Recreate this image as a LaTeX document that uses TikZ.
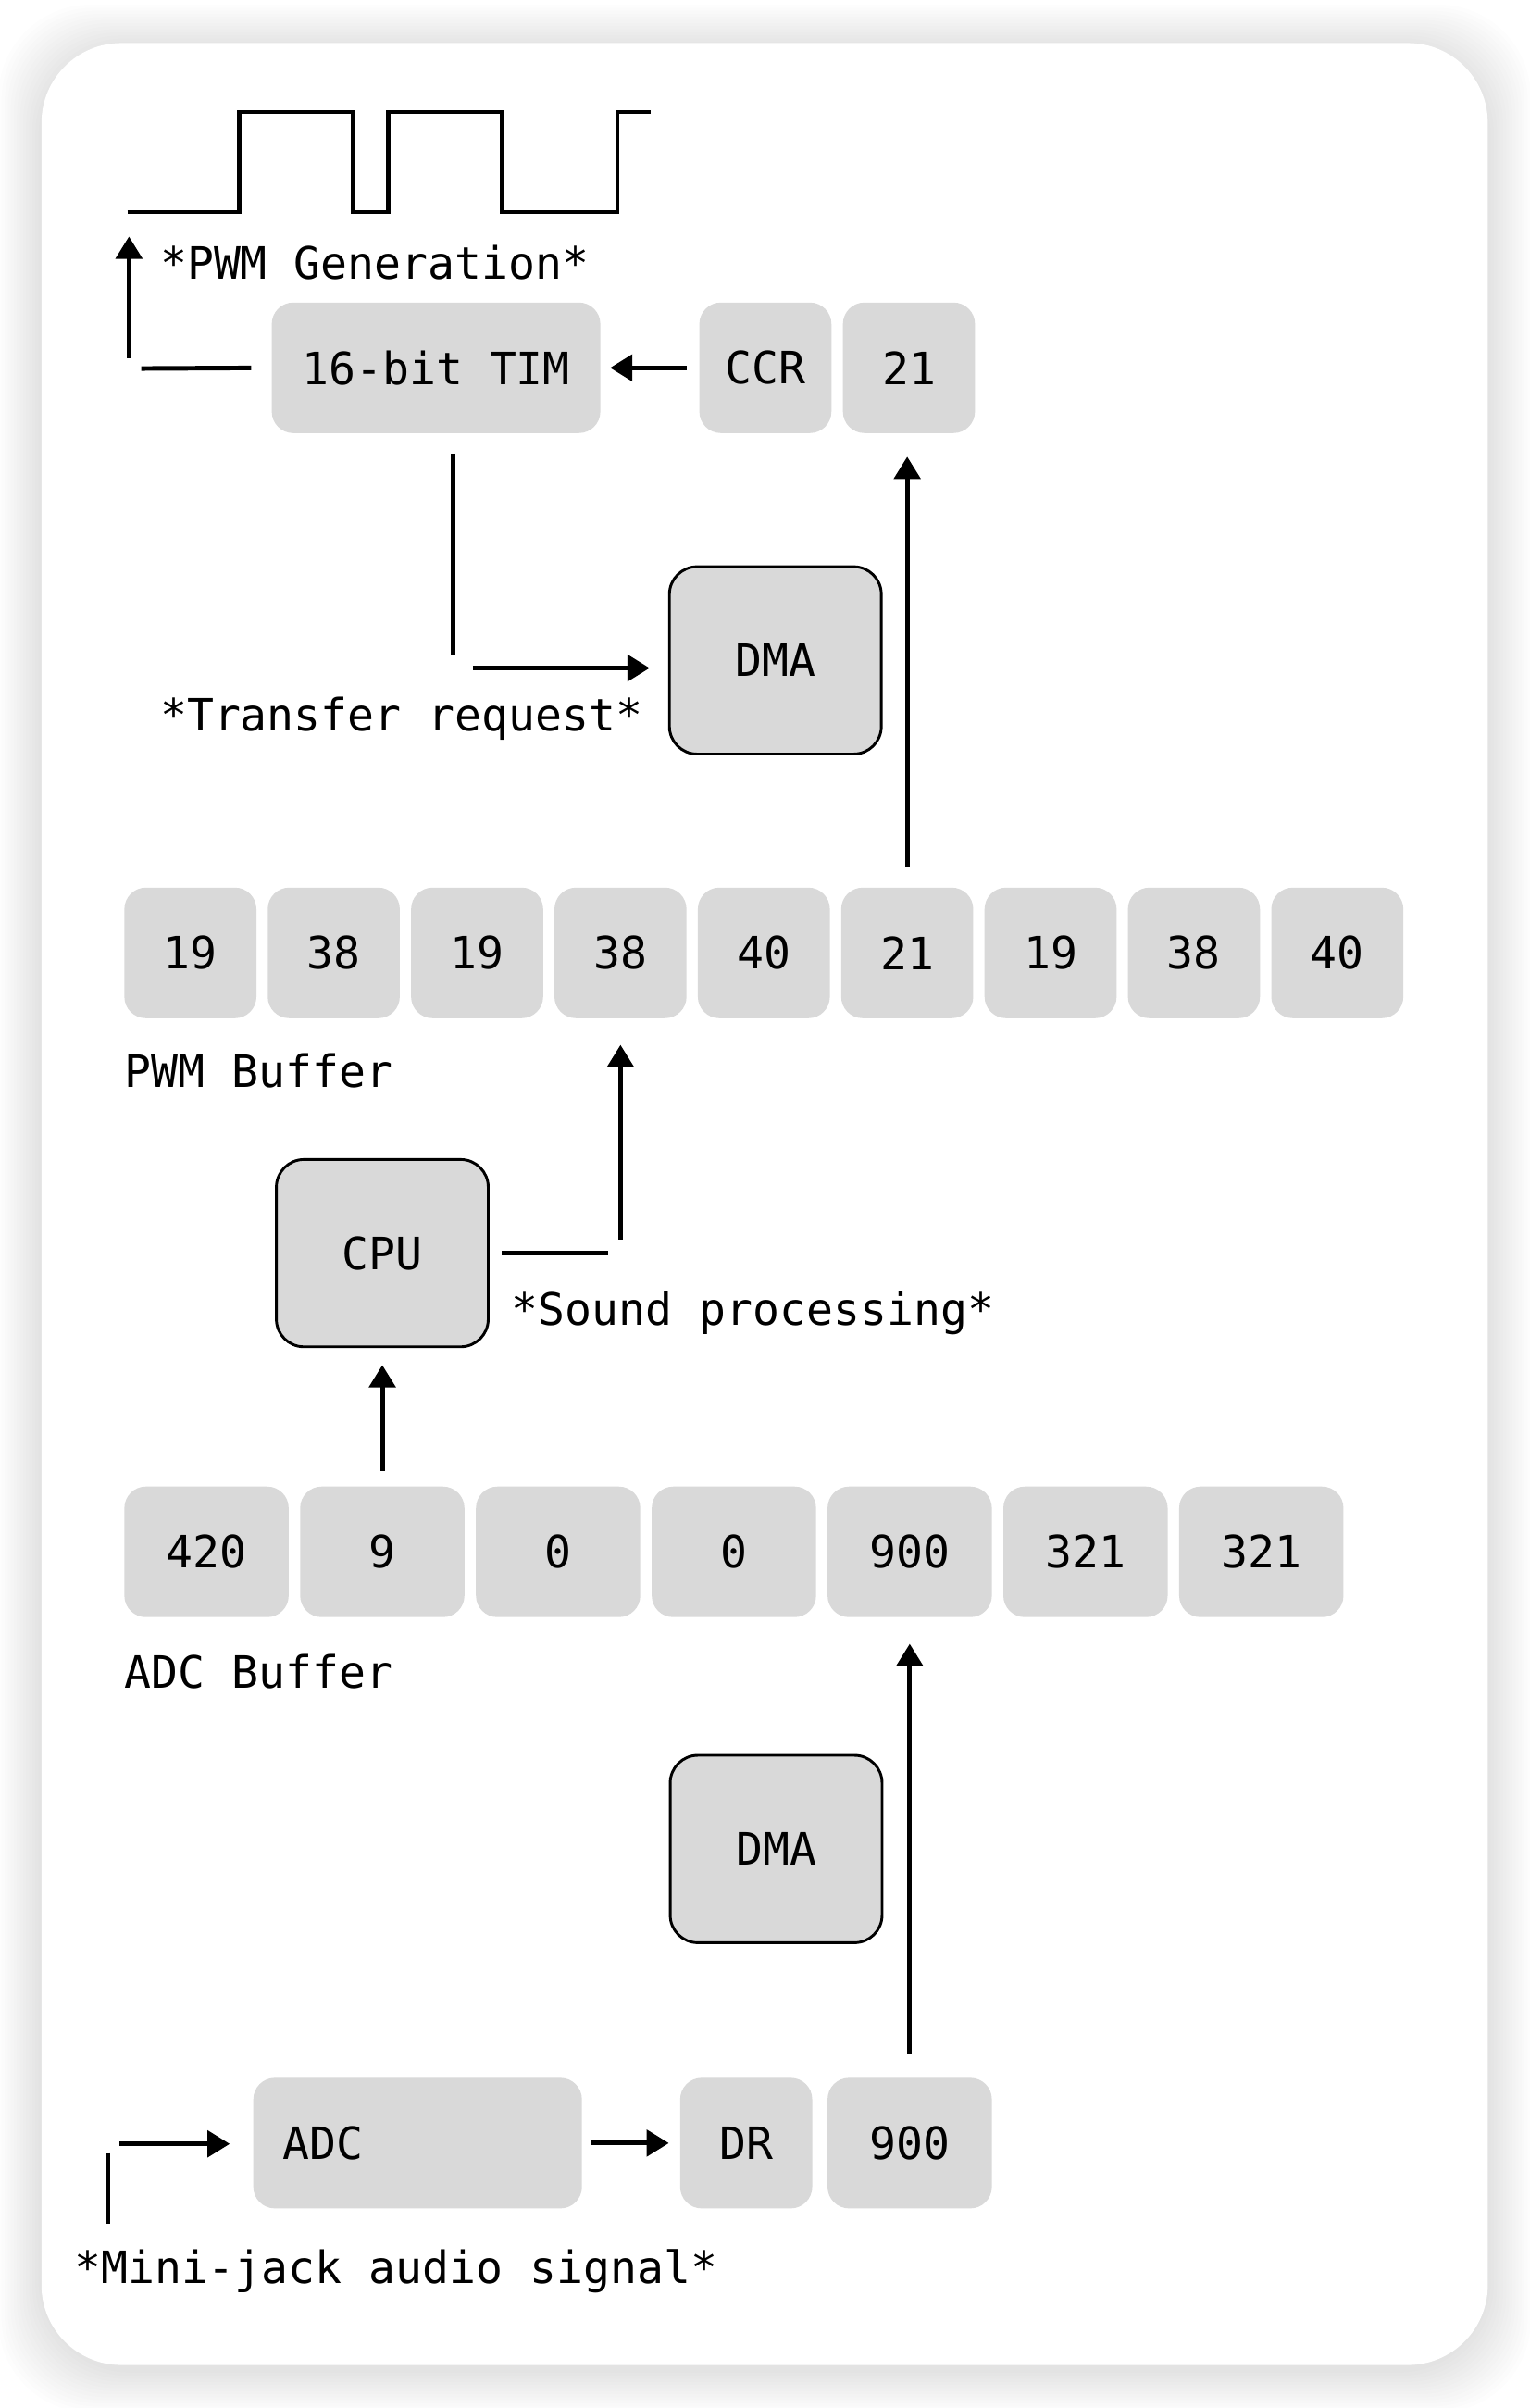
\documentclass[tikz,border=0pt]{standalone}
\usepackage{fontspec}
\setmonofont{DejaVu Sans Mono}
\usetikzlibrary{arrows.meta,calc}
\definecolor{cellgray}{HTML}{D9D9D9}
\tikzset{
  every node/.style={font=\ttfamily\fontsize{16.5}{20}\selectfont},
  cell/.style={fill=cellgray, rounded corners=2.8mm, inner sep=0pt, minimum width=17.2mm, minimum height=17mm},
  widecell/.style={cell, minimum width=21.4mm},
  unit/.style={cell, draw=black, line width=1pt, rounded corners=3.6mm, minimum width=27.6mm, minimum height=24.4mm},
  wire/.style={line width=1.7pt},
  arr/.style={wire, -{Triangle[length=2.9mm,width=3.4mm]}},
  wave/.style={line width=1.6pt},
  lbl/.style={anchor=base west, inner sep=0pt},
}
\begin{document}
\begin{tikzpicture}[x=0.2mm, y=-0.2mm]
    \useasboundingbox (0,0) rectangle (996,1568);
    \fill[white] (0,0) rectangle (996,1568);
    % card with soft shadow
    \foreach \i in {1,...,14}
        \fill[black, opacity=0.007, rounded corners=12mm] (27-2*\i,31-2*\i) rectangle (969+2*\i,1543+2*\i);
    \fill[white, rounded corners=10.4mm] (27,28) rectangle (969,1540);

    % pwm output
    \draw[wave] (83,138) -- (156,138) -- (156,73) -- (230,73) -- (230,138) -- (253,138) -- (253,73) -- (327,73) -- (327,138) -- (402,138) -- (402,73) -- (424,73);
    \node[lbl] (gen) at (104,182) {*PWM Generation*};

    \node[cell, minimum width=42.8mm] (tim) at (284,239.5) {16-bit TIM};
    \node[cell] (ccr) at (498.5,239.5) {CCR};
    \node[cell] (reg21) at (592,239.5) {21};
    \node[unit] (dmaT) at (505,430) {DMA};
    \node[lbl] (treq) at (104,476) {*Transfer request*};

    % pwm buffer
    \foreach \v [count=\i] in {19,38,19,38,40,21,19,38,40}
        \node[cell] (pwm\i) at ({30.625+93.375*\i},620.5) {\v};
    \node[lbl] (pwmlbl) at (81,708) {PWM Buffer};

    \node[unit] (cpu) at (249,816) {CPU};
    \node[lbl] (sproc) at (333,863) {*Sound processing*};

    % adc buffer
    \foreach \v [count=\i] in {420,9,0,0,900,321,321}
        \node[widecell] (adcb\i) at ({20+114.5*\i},1010.5) {\v};
    \node[lbl] (adclbl) at (81,1099) {ADC Buffer};

    \node[unit] (dmaB) at (505.5,1204) {DMA};

    \node[cell, minimum width=42.8mm, text width=35.2mm, align=left, inner xsep=3.8mm] (adc) at (272,1395.5) {ADC};
    \node[cell] (dr) at (486,1395.5) {DR};
    \node[widecell] (reg900) at (592.5,1395.5) {900};
    \node[lbl] (jack) at (48,1487) {*Mini-jack audio signal*};

    % connectors
    \coordinate (genc) at (84,240);
    \coordinate (gentop) at (84,154);
    \draw[arr, shorten <=1.4mm] (genc) -- (gentop);
    \draw[wire, shorten <=1.6mm, shorten >=2.6mm] (genc) -- (tim.west);
    \draw[arr, shorten <=1.6mm, shorten >=1.2mm] (ccr.west) -- (tim.east);

    \coordinate (reqc) at (295,435);
    \draw[wire, shorten <=2.6mm, shorten >=1.6mm] (tim.south -| reqc) -- (reqc);
    \draw[arr, shorten <=2.6mm, shorten >=2.4mm] (reqc) -- (reqc -| dmaT.west);
    \draw[arr, shorten <=2.6mm, shorten >=3mm] (pwm6.north) -- (pwm6.north |- reg21.south);

    \coordinate (procc) at (pwm4.south |- cpu.east);
    \draw[wire, shorten <=1.6mm, shorten >=1.6mm] (cpu.east) -- (procc);
    \draw[arr, shorten <=1.8mm, shorten >=3.4mm] (procc) -- (pwm4.south);
    \draw[arr, shorten <=2mm, shorten >=2.2mm] (adcb2.north) -- (cpu.south);

    \draw[arr, shorten <=3mm, shorten >=3.4mm] (reg900.north) -- (adcb5.south);
    \draw[arr, shorten <=1.2mm, shorten >=1.4mm] (adc.east) -- (dr.west);

    \coordinate (jackc) at (70,1396);
    \coordinate (jackb) at (70,1448);
    \draw[wire, shorten <=1.2mm] (jackc) -- (jackb);
    \draw[arr, shorten <=1.6mm, shorten >=3mm] (jackc) -- (jackc -| adc.west);
\end{tikzpicture}
\end{document}
